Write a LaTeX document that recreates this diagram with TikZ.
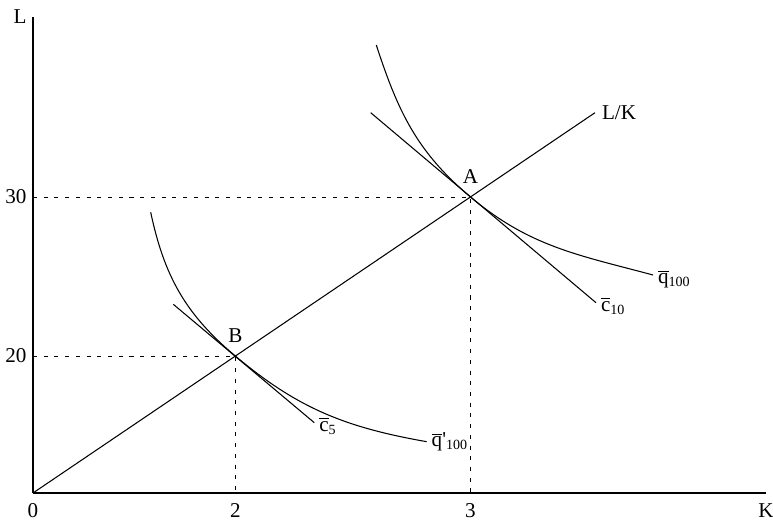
\documentclass[tikz,border=0pt]{standalone}
\usepackage{fontspec}
\setmainfont{Liberation Serif}
\usetikzlibrary{positioning}
\newcommand{\barq}[1]{$\overline{\mbox{#1}}$}
\begin{document}
\begin{tikzpicture}[line join=round,line width=0.6pt,font=\fontsize{12}{14}\selectfont,
	guide/.style={dash pattern=on 2.3pt off 3.8pt,line width=0.5pt},
	curvelab/.style={inner sep=0pt,anchor=base west,xshift=0.09cm,yshift=-0.17cm},
	ticklab/.style={inner sep=0pt,below=0.2cm},
	levlab/.style={inner sep=0pt,left=0.12cm},
	ptlab/.style={inner sep=0pt,above=0.26cm}]
	\useasboundingbox (-0.66,-0.56) rectangle (14.8,9.86);
	\coordinate (O) at (0,0);
	\coordinate (Kend) at (14.66,0);
	\coordinate (Lend) at (0,9.52);
	\coordinate (A) at (8.75,5.92);
	\coordinate (B) at (4.046,2.74);
	\coordinate (rayend) at (11.24,7.606);
	\coordinate (c10s) at (6.754,7.606);
	\coordinate (c10e) at (11.26,3.806);
	\coordinate (c5s) at (2.806,3.774);
	\coordinate (c5e) at (5.626,1.406);
	\coordinate (q100s) at (6.866,8.96);
	\coordinate (q100e) at (12.4,4.36);
	\coordinate (qp100s) at (2.354,5.614);
	\coordinate (qp100e) at (7.874,1.026);
	\draw (O) -- (Kend) (O) -- (Lend);
	\draw (O) -- (rayend);
	\draw (c10s) -- (c10e) (c5s) -- (c5e);
	\draw (q100s) to[out=-72,in=140] (A) to[out=-40,in=165] (q100e);
	\draw (qp100s) to[out=-78,in=140] (B) to[out=-40,in=170] (qp100e);
	\draw[guide] (O |- A) -- (A) -- (A |- O);
	\draw[guide] (O |- B) -- (B) -- (B |- O);
	\node[left] (Llab) at (Lend) {L};
	\node[ticklab] (Klab) at (Kend) {K};
	\node[ticklab] (t0) at (O) {0};
	\node[ticklab] (t2) at (B |- O) {2};
	\node[ticklab] (t3) at (A |- O) {3};
	\node[levlab] (l20) at (O |- B) {20};
	\node[levlab] (l30) at (O |- A) {30};
	\node[ptlab] (Alab) at (A) {A};
	\node[ptlab] (Blab) at (B) {B};
	\node[inner sep=0pt,right=0.13cm] (raylab) at (rayend) {L/K};
	\node[curvelab] (c10lab) at (c10e) {\barq{c}\textsubscript{10}};
	\node[curvelab] (c5lab) at (c5e) {\barq{c}\textsubscript{5}};
	\node[curvelab] (q100lab) at (q100e) {\barq{q}\textsubscript{100}};
	\node[curvelab,yshift=0.07cm] (qp100lab) at (qp100e) {\barq{q}\textquotesingle\textsubscript{100}};
\end{tikzpicture}
\end{document}
